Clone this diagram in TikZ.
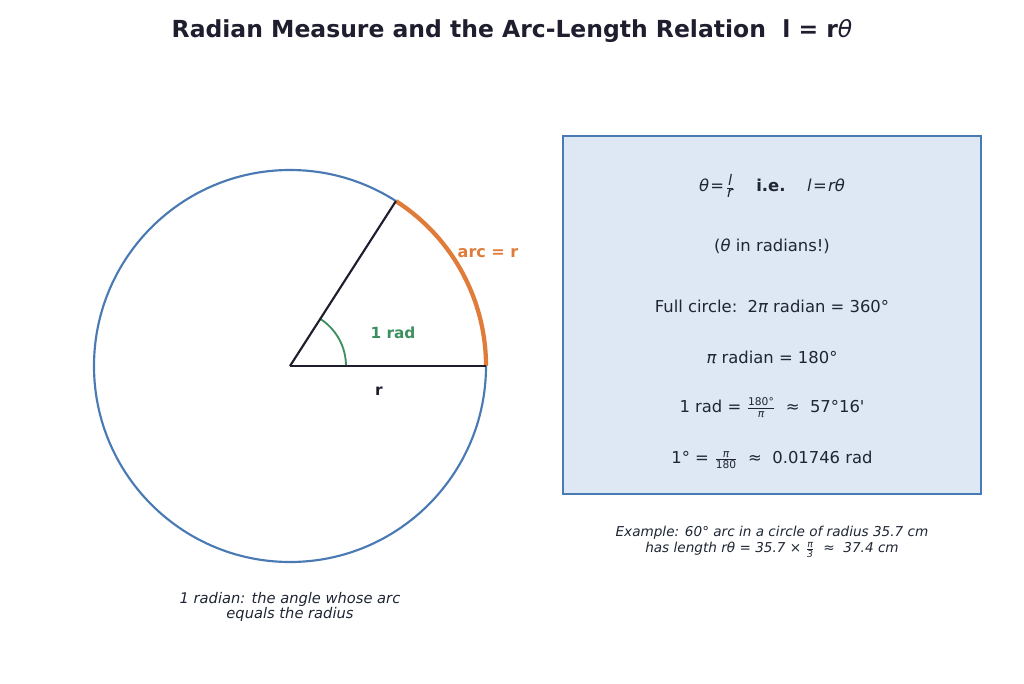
\documentclass[tikz,border=0pt]{standalone}
\usepackage{fontspec}
\setmainfont{DejaVu Sans}
\usetikzlibrary{calc}
\definecolor{cblue}{HTML}{4A7AB3}
\definecolor{cfill}{HTML}{DDE8F4}
\definecolor{corange}{HTML}{E07B39}
\definecolor{cgreen}{HTML}{3D8F5F}
\definecolor{cdark}{HTML}{1E1E2E}
\definecolor{ctext}{HTML}{1F2633}
\newcommand\myfr[3][8]{$\frac{\hbox{\fontsize{#1}{#1}\selectfont #2}}{\hbox{\fontsize{#1}{#1}\selectfont #3}}$}
\begin{document}
\begin{tikzpicture}[x=0.75pt,y=0.75pt,
  boxline/.style={font=\fontsize{12.3}{14}\selectfont, text=ctext, anchor=center},
  lbl/.style={font=\bfseries\fontsize{11.5}{13}\selectfont},
  capt/.style={text=ctext, align=center}]
\useasboundingbox (0,0) rectangle (1024,683);
% title
\node[font=\bfseries\fontsize{17.6}{20}\selectfont, text=cdark] (title) at (512,652)
  {Radian Measure and the Arc-Length Relation\ \ l = r{\mdseries\itshape θ}};
% geometry
\coordinate (O) at (290,317);
\coordinate (A) at ($(O)+(196,0)$);
\coordinate (B) at ($(O)+(57.2958:196)$);
\coordinate (G) at ($(O)+(56,0)$);
\draw[cblue, line width=1.6pt] (O) circle[radius=196];
\draw[corange, line width=3.2pt] (A) arc[start angle=0, end angle=57.2958, radius=196];
\draw[cgreen, line width=1.4pt] (G) arc[start angle=0, end angle=57.2958, radius=56];
\draw[cdark, line width=1.6pt] (O) -- (A);
\draw[cdark, line width=1.6pt] (O) -- (B);
\node[lbl, text=cgreen] (rad) at (393,350) {1 rad};
\node[lbl, text=cdark] (r) at (379,292) {r};
\node[lbl, text=corange, font=\bfseries\fontsize{12}{13}\selectfont] (arc) at (488,430) {arc = r};
\node[capt, font=\itshape\fontsize{11}{11.3}\selectfont] (cap) at (290,76) {1 radian: the angle whose arc\\equals the radius};
% box
\draw[cblue, fill=cfill, line width=1.6pt] (563,189) rectangle (981,547);
\node[boxline] (l1) at (772,497) {{\itshape θ}\kern1pt=\kern1pt\myfr[11]{\itshape l}{\itshape r}\quad\ \textbf{i.e.}\quad\ {\itshape l}\kern1pt=\kern1pt{\itshape rθ}};
\node[boxline] (l2) at (772,437) {({\itshape θ} in radians!)};
\node[boxline] (l3) at (772,377) {Full circle:\ \ 2{\itshape π} radian = 360°};
\node[boxline] (l4) at (772,326) {{\itshape π} radian = 180°};
\node[boxline] (l5) at (772,275) {1 rad = \myfr{180°}{\itshape π}\ \ ≈\ \ 57°16\textquotesingle};
\node[boxline] (l6) at (772,223) {1° = \myfr{\itshape π}{180}\ \ ≈\ \ 0.01746 rad};
\node[capt, font=\itshape\fontsize{10.2}{12}\selectfont] (ex) at (772,141) {Example: 60° arc in a circle of radius 35.7 cm\\has length {rθ} = 35.7 × \myfr[7]{π}{3}\ \ ≈\ \ 37.4 cm};
\end{tikzpicture}
\end{document}
